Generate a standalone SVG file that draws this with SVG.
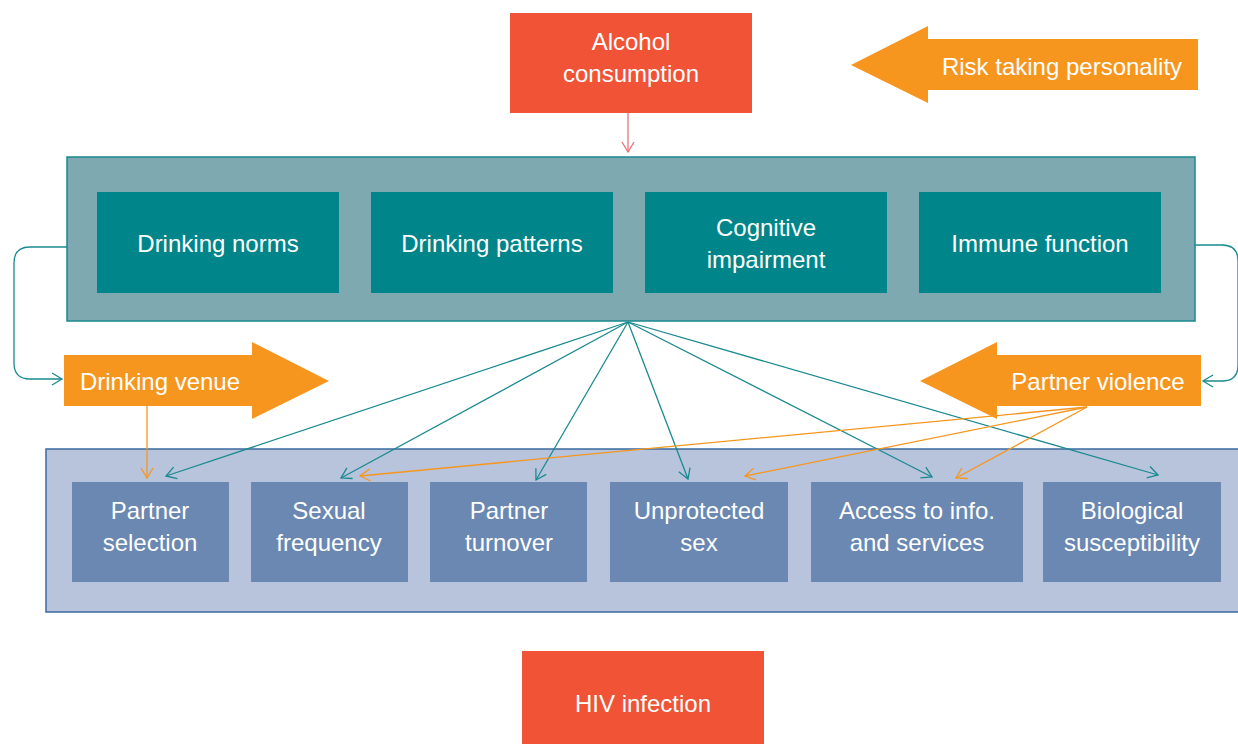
<svg xmlns="http://www.w3.org/2000/svg" width="1238" height="744" viewBox="0 0 1238 744">
<style>
text{font-family:"Liberation Sans",Arial,sans-serif;font-size:24px;fill:#ffffff;text-anchor:middle}
.red{fill:#F05336}
.orange{fill:#F7961E}
.outerTop{fill:#7FA9B1;stroke:#1A888E;stroke-width:1.5}
.innerTop{fill:#00858A}
.outerBot{fill:#B7C4DC;stroke:#3B6A9E;stroke-width:1.5}
.innerBot{fill:#6A88B1}
.tl{fill:none;stroke:#1A8A90;stroke-width:1.3}
.ol{fill:none;stroke:#F7961E;stroke-width:1.3}
.pl{fill:none;stroke:#EE6F77;stroke-width:1.3}
</style>
<defs>
<marker id="mt" markerUnits="userSpaceOnUse" markerWidth="20" markerHeight="20" viewBox="-12 -10 14 20" refX="0" refY="0" orient="auto"><path d="M-10,-6 L0,0 L-10,6" fill="none" stroke="#1A8A90" stroke-width="1.3"/></marker>
<marker id="mo" markerUnits="userSpaceOnUse" markerWidth="20" markerHeight="20" viewBox="-12 -10 14 20" refX="0" refY="0" orient="auto"><path d="M-10,-6 L0,0 L-10,6" fill="none" stroke="#F7961E" stroke-width="1.3"/></marker>
<marker id="mp" markerUnits="userSpaceOnUse" markerWidth="20" markerHeight="20" viewBox="-12 -10 14 20" refX="0" refY="0" orient="auto"><path d="M-10,-6 L0,0 L-10,6" fill="none" stroke="#EE6F77" stroke-width="1.3"/></marker>
</defs>

<g id="mechanisms">
<rect class="outerTop" x="67" y="157" width="1128" height="164"/>
</g>
<g id="outcomes">
<rect class="outerBot" x="46" y="449" width="1200" height="163"/>
</g>

<g id="alcohol">
<rect class="red" x="510" y="13" width="242" height="100"/>
<text x="631" y="50">Alcohol</text>
<text x="631" y="82">consumption</text>
</g>

<g id="risk">
<polygon class="orange" points="851,65 928,26 928,39 1198,39 1198,90 928,90 928,103"/>
<text x="1062" y="75">Risk taking personality</text>
</g>

<g id="norms"><rect class="innerTop" x="97" y="192" width="242" height="101"/><text x="218" y="252">Drinking norms</text></g>
<g id="patterns"><rect class="innerTop" x="371" y="192" width="242" height="101"/><text x="492" y="252">Drinking patterns</text></g>
<g id="cognitive"><rect class="innerTop" x="645" y="192" width="242" height="101"/><text x="766" y="236">Cognitive</text><text x="766" y="268">impairment</text></g>
<g id="immune"><rect class="innerTop" x="919" y="192" width="242" height="101"/><text x="1040" y="252">Immune function</text></g>

<g id="venue">
<polygon class="orange" points="64,355 252,355 252,342 329,381 252,419 252,406 64,406"/>
<text x="160" y="390">Drinking venue</text>
</g>

<g id="violence">
<polygon class="orange" points="920,381 997,342 997,355 1201,355 1201,406 997,406 997,419"/>
<text x="1098" y="390">Partner violence</text>
</g>

<g id="selection"><rect class="innerBot" x="72" y="482" width="157" height="100"/><text x="150" y="519">Partner</text><text x="150" y="551">selection</text></g>
<g id="frequency"><rect class="innerBot" x="251" y="482" width="157" height="100"/><text x="329" y="519">Sexual</text><text x="329" y="551">frequency</text></g>
<g id="turnover"><rect class="innerBot" x="430" y="482" width="157" height="100"/><text x="509" y="519">Partner</text><text x="509" y="551">turnover</text></g>
<g id="unprotected"><rect class="innerBot" x="610" y="482" width="178" height="100"/><text x="699" y="519">Unprotected</text><text x="699" y="551">sex</text></g>
<g id="access"><rect class="innerBot" x="811" y="482" width="212" height="100"/><text x="917" y="519">Access to info.</text><text x="917" y="551">and services</text></g>
<g id="biological"><rect class="innerBot" x="1043" y="482" width="178" height="100"/><text x="1132" y="519">Biological</text><text x="1132" y="551">susceptibility</text></g>

<g id="hiv">
<rect class="red" x="522" y="651" width="242" height="95"/>
<text x="643" y="712">HIV infection</text>
</g>

<g id="connectors">
<path class="pl" d="M628,113 V152" marker-end="url(#mp)"/>
<path class="tl" d="M67,247 H30 Q14,247 14,263 V363 Q14,379 30,379 H62" marker-end="url(#mt)"/>
<path class="tl" d="M1195,245 H1222 Q1238,245 1238,261 V365 Q1238,381 1222,381 H1203" marker-end="url(#mt)"/>
<path class="ol" d="M147,406 V478" marker-end="url(#mo)"/>
<path class="tl" d="M628,322 L166,476" marker-end="url(#mt)"/>
<path class="tl" d="M628,322 L341,478" marker-end="url(#mt)"/>
<path class="tl" d="M628,322 L536,480" marker-end="url(#mt)"/>
<path class="tl" d="M628,322 L688,479" marker-end="url(#mt)"/>
<path class="tl" d="M628,322 L932,477" marker-end="url(#mt)"/>
<path class="tl" d="M628,322 L1158,475" marker-end="url(#mt)"/>
<path class="ol" d="M1087,407 L360,476" marker-end="url(#mo)"/>
<path class="ol" d="M1087,407 L745,476" marker-end="url(#mo)"/>
<path class="ol" d="M1087,407 L956,478" marker-end="url(#mo)"/>
</g>
</svg>
